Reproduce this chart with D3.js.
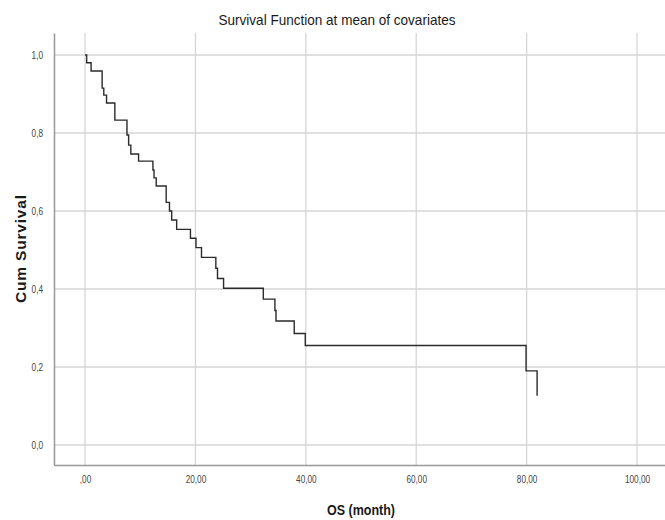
<!DOCTYPE html>
<html>
<head>
<meta charset="utf-8">
<script src="https://cdn.jsdelivr.net/npm/d3@7"></script>
<style>
    body { margin: 0; background: #fff; }
    svg { display: block; }
    text { font-family: "Liberation Sans", Arial, sans-serif; }
</style>
</head>
<body>
<svg id="chart" width="665" height="520"></svg>
<script>
// survival estimates (time in months, cumulative survival)
const os_month = [0, 0.3, 1.1, 3.1, 3.4, 3.9, 5.4, 7.6, 7.9, 8.3, 9.7, 12.3, 12.5, 12.9, 14.7, 15.3, 15.7, 16.6,
    19.1, 20.1, 21.1, 23.7, 24.0, 25.1, 32.3, 34.4, 34.6, 37.9, 39.9, 79.9, 81.9];
const cum_survival = [1.0, 0.980, 0.959, 0.915, 0.897, 0.877, 0.833, 0.795, 0.769, 0.746, 0.728, 0.705, 0.685, 0.664,
    0.622, 0.600, 0.577, 0.553, 0.530, 0.506, 0.481, 0.453, 0.427, 0.402, 0.374, 0.345, 0.318, 0.286, 0.255, 0.190, 0.126];

const x_ticks = [0, 20, 40, 60, 80, 100];
const x_tick_labels = [",00", "20,00", "40,00", "60,00", "80,00", "100,00"];
const y_ticks = [0, 0.2, 0.4, 0.6, 0.8, 1.0];
const y_tick_labels = ["0,0", "0,2", "0,4", "0,6", "0,8", "1,0"];

const chart_title = "Survival Function at mean of covariates";
const x_title = "OS (month)";
const y_title = "Cum Survival";

const svg = d3.select("#chart");
const plot_left = 54, plot_right = 665, plot_top = 33, plot_bottom = 465;

// x(0)=85, x(100)=637 ; y(0)=445, y(1)=55
const x = d3.scaleLinear().domain([-5.62, 105.07]).range([plot_left, plot_right]);
const y = d3.scaleLinear().domain([-0.0513, 1.0564]).range([plot_bottom, plot_top]);

// squeeze text horizontally, the original uses a condensed face
function narrow(sel, k) {
    sel.each(function () {
        const w = this.getComputedTextLength();
        d3.select(this).attr("textLength", w * k).attr("lengthAdjust", "spacingAndGlyphs");
    });
}

// gridlines
svg.append("g")
    .selectAll("line")
    .data(x_ticks)
    .enter()
    .append("line")
    .attr("x1", d => x(d))
    .attr("x2", d => x(d))
    .attr("y1", plot_top)
    .attr("y2", plot_bottom)
    .attr("stroke", "#d6d6d6")
    .attr("stroke-width", 1.3);

svg.append("g")
    .selectAll("line")
    .data(y_ticks)
    .enter()
    .append("line")
    .attr("x1", plot_left)
    .attr("x2", plot_right)
    .attr("y1", d => y(d))
    .attr("y2", d => y(d))
    .attr("stroke", "#d6d6d6")
    .attr("stroke-width", 1.3);

// axes
const x_axis = svg.append("g")
    .attr("transform", `translate(0,${plot_bottom})`)
    .call(d3.axisBottom(x).tickValues(x_ticks).tickSize(0).tickPadding(11)
        .tickFormat((d, i) => x_tick_labels[i]));
const y_axis = svg.append("g")
    .attr("transform", `translate(${plot_left},0)`)
    .call(d3.axisLeft(y).tickValues(y_ticks).tickSize(0).tickPadding(11)
        .tickFormat((d, i) => y_tick_labels[i]));

[x_axis, y_axis].forEach(a => {
    a.select(".domain").attr("stroke", "#999").attr("stroke-width", 1.5);
    a.selectAll("text").attr("fill", "#444").style("font-size", "10px").call(narrow, 0.82);
});

// step curve
const line = d3.line()
    .x(d => x(d[0]))
    .y(d => y(d[1]))
    .curve(d3.curveStepAfter);

svg.append("path")
    .datum(os_month.map((t, i) => [t, cum_survival[i]]))
    .attr("d", line)
    .attr("fill", "none")
    .attr("stroke", "#2b2b2b")
    .attr("stroke-width", 1.4);

// titles
svg.append("text")
    .attr("x", 337)
    .attr("y", 25)
    .attr("text-anchor", "middle")
    .style("font-size", "14.5px")
    .attr("fill", "#1a1a1a")
    .attr("textLength", 237)
    .attr("lengthAdjust", "spacingAndGlyphs")
    .text(chart_title);

svg.append("text")
    .attr("x", 361)
    .attr("y", 515)
    .attr("text-anchor", "middle")
    .style("font-size", "14.5px")
    .style("font-weight", "bold")
    .attr("fill", "#1a1a1a")
    .attr("textLength", 68)
    .attr("lengthAdjust", "spacingAndGlyphs")
    .text(x_title);

svg.append("text")
    .attr("transform", "translate(26,249) rotate(-90)")
    .attr("text-anchor", "middle")
    .style("font-size", "15.5px")
    .style("font-weight", "bold")
    .attr("fill", "#1a1a1a")
    .attr("textLength", 108)
    .text(y_title);
</script>
</body>
</html>
